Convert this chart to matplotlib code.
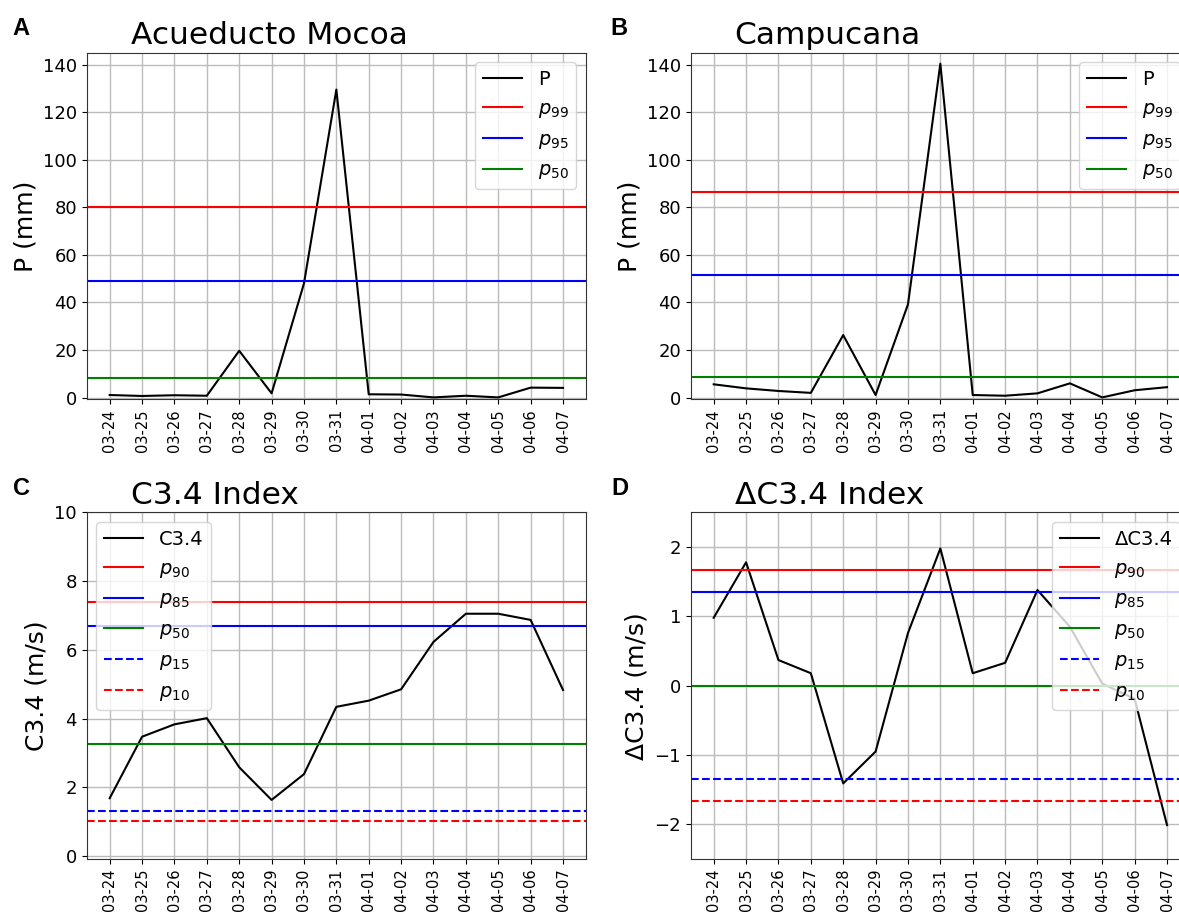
import numpy as np
import matplotlib
matplotlib.use('Agg')
import matplotlib.pyplot as plt

days = ['03-24', '03-25', '03-26', '03-27', '03-28', '03-29', '03-30', '03-31',
        '04-01', '04-02', '04-03', '04-04', '04-05', '04-06', '04-07']

# daily precipitation (mm)
p_mocoa = [1.1, 0.7, 1.0, 0.8, 19.7, 1.8, 48.0, 129.5, 1.4, 1.3, 0.1, 0.8, 0.1, 4.2, 4.1]
p_campucana = [5.6, 3.9, 2.8, 2.0, 26.3, 1.1, 39.2, 140.4, 1.1, 0.8, 1.8, 6.0, 0.1, 3.1, 4.4]

# percentiles of P: p99, p95, p50
pct_mocoa = [80.0, 49.0, 8.3]
pct_campucana = [86.4, 51.5, 8.6]

# C3.4 index and its change (m/s)
c34 = [1.68, 3.47, 3.83, 4.01, 2.58, 1.63, 2.38, 4.34, 4.52, 4.85, 6.23, 7.05, 7.05, 6.87, 4.83]
dc34 = [0.98, 1.78, 0.37, 0.18, -1.41, -0.95, 0.76, 1.98, 0.18, 0.33, 1.38, 0.85, 0.03, -0.19, -2.01]

# percentiles of C3.4 / dC3.4: p90, p85, p50, p15, p10
pct_c34 = [7.39, 6.69, 3.27, 1.31, 1.03]
pct_dc34 = [1.67, 1.35, -0.01, -1.34, -1.67]

p_labels = ['$p_{99}$', '$p_{95}$', '$p_{50}$']
c_labels = ['$p_{90}$', '$p_{85}$', '$p_{50}$', '$p_{15}$', '$p_{10}$']
p_styles = [('r', '-'), ('b', '-'), ('g', '-')]
c_styles = [('r', '-'), ('b', '-'), ('g', '-'), ('b', '--'), ('r', '--')]

W, H = 1179, 913
fig = plt.figure(figsize=(W / 100, H / 100), dpi=100)

w = 499.3 / W
h = 346.6 / H
ax_a = fig.add_axes([86.7 / W, 1 - 399.3 / H, w, h])
ax_b = fig.add_axes([690.7 / W, 1 - 399.3 / H, w, h])
ax_c = fig.add_axes([86.7 / W, 1 - 859 / H, w, h])
ax_d = fig.add_axes([690.7 / W, 1 - 859 / H, w, h])

x = np.arange(len(days))


def panel(ax, series, name, pcts, labels, styles, title, ylabel, loc):
    ax.plot(x, series, color='k', lw=1.5, label=name)
    for v, lab, (c, ls) in zip(pcts, labels, styles):
        ax.axhline(v, color=c, ls=ls, lw=1.5, label=lab)
    ax.set_xticks(x)
    ax.set_xticklabels(days, rotation=90, fontsize=10.5)
    ax.tick_params(axis='y', labelsize=13)
    ax.set_xlim(-0.71, 14.71)
    ax.grid(True, color='#bcbcbc', lw=1.0)
    for s in ax.spines.values():
        s.set_color('#333333')
    ax.set_ylabel(ylabel, fontsize=18)
    ax.set_title(title, fontsize=22.5, loc='left', x=0.088)
    ax.legend(loc=loc, fontsize=14)


panel(ax_a, p_mocoa, 'P', pct_mocoa, p_labels, p_styles,
      'Acueducto Mocoa', 'P (mm)', 'upper right')
ax_a.set_ylim(-0.7, 145)
ax_a.set_yticks(np.arange(0, 141, 20))

panel(ax_b, p_campucana, 'P', pct_campucana, p_labels, p_styles,
      'Campucana', 'P (mm)', 'upper right')
ax_b.set_ylim(-0.7, 145)
ax_b.set_yticks(np.arange(0, 141, 20))

panel(ax_c, c34, 'C3.4', pct_c34, c_labels, c_styles,
      'C3.4 Index', 'C3.4 (m/s)', 'upper left')
ax_c.set_ylim(-0.09, 10)
ax_c.set_yticks(np.arange(0, 11, 2))

panel(ax_d, dc34, '\u0394C3.4', pct_dc34, c_labels, c_styles,
      '\u0394C3.4 Index', '\u0394C3.4 (m/s)', 'upper right')
ax_d.set_ylim(-2.5, 2.5)
ax_d.set_yticks([-2, -1, 0, 1, 2])

for lab, px, py in [('A', 12, 35), ('B', 610, 35), ('C', 13, 495), ('D', 611, 495)]:
    fig.text(px / W, 1 - py / H, lab, fontsize=17, fontweight='bold',
             family='Liberation Sans', va='baseline', ha='left')

plt.savefig('out.png', dpi=100)
